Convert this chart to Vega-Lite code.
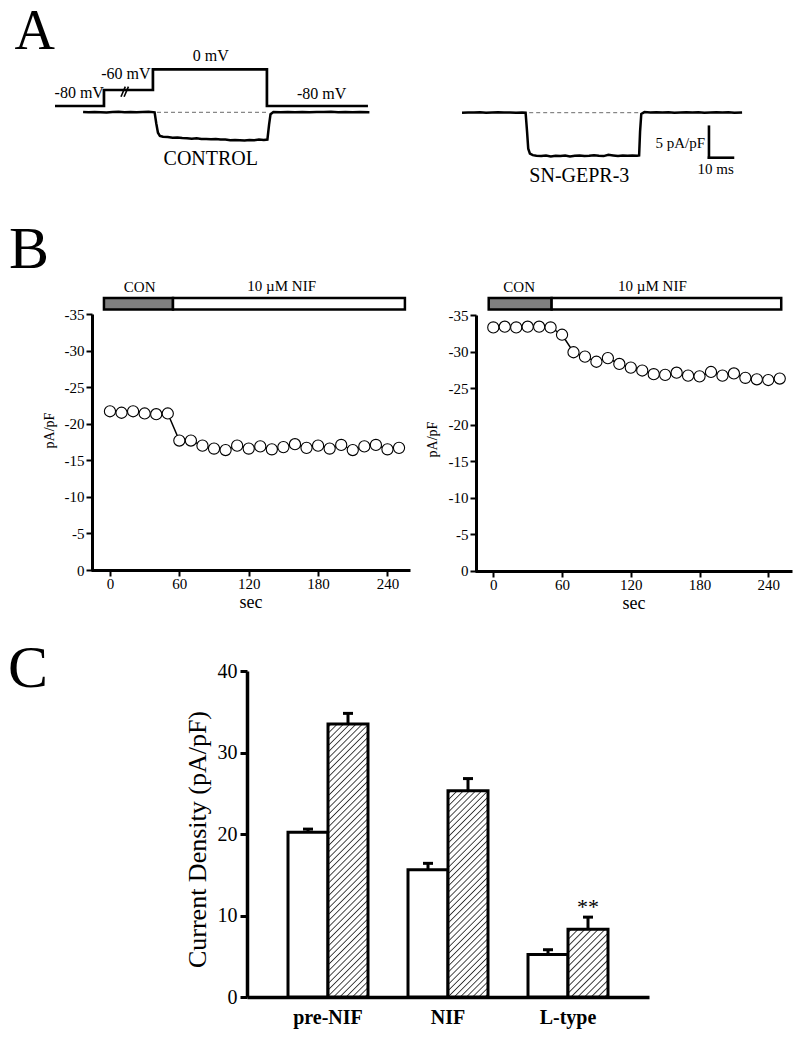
{
  "$schema": "https://vega.github.io/schema/vega-lite/v6.json",
  "width": 800,
  "height": 1037,
  "padding": 0,
  "autosize": {"type": "none"},
  "background": "white",
  "datasets": {
    "vprot": [{"t": 0, "mV": -80}, {"t": 20.4, "mV": -60}, {"t": 40.8, "mV": 0}, {"t": 88.3, "mV": -80}, {"t": 130.4, "mV": -80}],
    "ctrlI": [{"t":11.7,"I":0.05},{"t":14,"I":0.0},{"t":16.5,"I":0.06},{"t":19,"I":0.02},{"t":21.5,"I":-0.03},{"t":24,"I":0.04},{"t":26.5,"I":0.08},{"t":29,"I":0.02},{"t":31.5,"I":0.05},{"t":34,"I":0.0},{"t":36.5,"I":0.06},{"t":39,"I":0.1},{"t":41.5,"I":0.0},{"t":42.2,"I":-1.8},{"t":42.9,"I":-3.3},{"t":43.7,"I":-3.8},{"t":45,"I":-3.95},{"t":47,"I":-4.0},{"t":49,"I":-4.1},{"t":51,"I":-4.05},{"t":53,"I":-4.15},{"t":55,"I":-4.2},{"t":57,"I":-4.25},{"t":59,"I":-4.2},{"t":61,"I":-4.3},{"t":63,"I":-4.3},{"t":65,"I":-4.35},{"t":67,"I":-4.3},{"t":69,"I":-4.4},{"t":71,"I":-4.4},{"t":73,"I":-4.5},{"t":75,"I":-4.45},{"t":77,"I":-4.5},{"t":79,"I":-4.55},{"t":81,"I":-4.45},{"t":83,"I":-4.5},{"t":85,"I":-4.4},{"t":87,"I":-4.45},{"t":88.5,"I":-4.4},{"t":89.2,"I":-2.0},{"t":89.8,"I":-0.3},{"t":91,"I":0.05},{"t":94,"I":0.0},{"t":97,"I":0.06},{"t":100,"I":0.02},{"t":103,"I":0.05},{"t":106,"I":0.0},{"t":109,"I":0.05},{"t":112,"I":0.03},{"t":115,"I":0.07},{"t":118,"I":0.02},{"t":121,"I":0.05},{"t":124,"I":0.01},{"t":127,"I":0.04},{"t":131,"I":0.02}],
    "snI": [{"t":0,"I":0.0},{"t":2.5,"I":0.05},{"t":5,"I":0.02},{"t":7.5,"I":0.06},{"t":10,"I":0.0},{"t":12.5,"I":0.04},{"t":15,"I":0.07},{"t":17.5,"I":0.02},{"t":20,"I":0.05},{"t":22.5,"I":0.01},{"t":25,"I":0.04},{"t":26.5,"I":0.0},{"t":27.1,"I":-3.0},{"t":27.6,"I":-5.8},{"t":28.3,"I":-6.6},{"t":29.5,"I":-6.85},{"t":31,"I":-6.95},{"t":33,"I":-7.0},{"t":35,"I":-6.9},{"t":37,"I":-7.05},{"t":39,"I":-6.95},{"t":41,"I":-7.0},{"t":43,"I":-6.9},{"t":45,"I":-7.05},{"t":47,"I":-6.95},{"t":49,"I":-6.9},{"t":51,"I":-7.0},{"t":53,"I":-6.95},{"t":55,"I":-6.85},{"t":57,"I":-6.95},{"t":59,"I":-7.0},{"t":61,"I":-6.8},{"t":63,"I":-6.9},{"t":65,"I":-7.0},{"t":67,"I":-6.9},{"t":69,"I":-6.95},{"t":71,"I":-6.9},{"t":73,"I":-6.95},{"t":73.8,"I":-6.9},{"t":74.2,"I":-3.0},{"t":74.7,"I":-0.2},{"t":76,"I":0.1},{"t":78.5,"I":0.05},{"t":81,"I":0.08},{"t":83.5,"I":0.03},{"t":86,"I":0.06},{"t":88.5,"I":0.0},{"t":91,"I":0.05},{"t":93.5,"I":0.08},{"t":96,"I":0.02},{"t":98.5,"I":0.06},{"t":101,"I":0.0},{"t":103.5,"I":0.05},{"t":106,"I":0.08},{"t":108.5,"I":0.02},{"t":111,"I":0.06},{"t":113.5,"I":0.0},{"t":116.7,"I":0.04}],
    "bL": [{"t":0,"I":-21.7},{"t":10,"I":-21.5},{"t":20,"I":-21.7},{"t":30,"I":-21.4},{"t":40,"I":-21.3},{"t":50,"I":-21.4},{"t":60,"I":-17.7},{"t":70,"I":-17.7},{"t":80,"I":-17.0},{"t":90,"I":-16.6},{"t":100,"I":-16.4},{"t":110,"I":-17.0},{"t":120,"I":-16.6},{"t":130,"I":-16.9},{"t":140,"I":-16.5},{"t":150,"I":-16.8},{"t":160,"I":-17.2},{"t":170,"I":-16.7},{"t":180,"I":-17.0},{"t":190,"I":-16.6},{"t":200,"I":-17.1},{"t":210,"I":-16.4},{"t":220,"I":-16.9},{"t":230,"I":-17.1},{"t":240,"I":-16.5},{"t":250,"I":-16.7}],
    "bR": [{"t":0,"I":-33.3},{"t":10,"I":-33.4},{"t":20,"I":-33.3},{"t":30,"I":-33.4},{"t":40,"I":-33.4},{"t":50,"I":-33.3},{"t":60,"I":-32.3},{"t":70,"I":-29.9},{"t":80,"I":-29.3},{"t":90,"I":-28.6},{"t":100,"I":-29.1},{"t":110,"I":-28.3},{"t":120,"I":-27.8},{"t":130,"I":-27.4},{"t":140,"I":-26.9},{"t":150,"I":-26.8},{"t":160,"I":-27.1},{"t":170,"I":-26.7},{"t":180,"I":-26.6},{"t":190,"I":-27.2},{"t":200,"I":-26.7},{"t":210,"I":-27.0},{"t":220,"I":-26.4},{"t":230,"I":-26.2},{"t":240,"I":-26.1},{"t":250,"I":-26.3}],
    "trtL": [{"phase": "CON", "start": -5.2, "end": 54.5}, {"phase": "NIF", "start": 54.5, "end": 255.1}],
    "trtR": [{"phase": "CON", "start": -4.0, "end": 50.9}, {"phase": "NIF", "start": 50.9, "end": 251.3}],
    "bars": [
      {"group": "pre-NIF", "strain": "CONTROL", "mean": 20.2, "upper": 20.6, "sig": ""},
      {"group": "pre-NIF", "strain": "SN-GEPR-3", "mean": 33.5, "upper": 34.8, "sig": ""},
      {"group": "NIF", "strain": "CONTROL", "mean": 15.6, "upper": 16.4, "sig": ""},
      {"group": "NIF", "strain": "SN-GEPR-3", "mean": 25.3, "upper": 26.8, "sig": ""},
      {"group": "L-type", "strain": "CONTROL", "mean": 5.2, "upper": 5.8, "sig": ""},
      {"group": "L-type", "strain": "SN-GEPR-3", "mean": 8.3, "upper": 9.8, "sig": "**"}
    ]
  },
  "layer": [
    {
      "layer": [
        {
          "layer": [
            {"data": {"name": "vprot"}, "mark": {"type": "line", "interpolate": "step-after", "color": "black", "strokeWidth": 2.7},
             "encoding": {"x": {"field": "t", "type": "quantitative", "scale": {"domain": [0, 130], "range": [55, 367], "nice": false, "zero": false}, "axis": null},
                          "y": {"field": "mV", "type": "quantitative", "scale": {"domain": [-80, -60, 0], "range": [106, 90, 69.3], "nice": false, "zero": false}, "axis": null}}},
            {"data": {"values": [{}]}, "mark": {"type": "rule", "color": "black", "strokeWidth": 1.6}, "encoding": {"x": {"datum": 27.5, "axis": null}, "x2": {"datum": 29.3}, "y": {"datum": -68.4, "axis": null}, "y2": {"datum": -50.4}}},
            {"data": {"values": [{}]}, "mark": {"type": "rule", "color": "black", "strokeWidth": 1.6}, "encoding": {"x": {"datum": 28.8, "axis": null}, "x2": {"datum": 30.6}, "y": {"datum": -68.4, "axis": null}, "y2": {"datum": -50.4}}},
            {"data": {"values": [{}]}, "mark": {"type": "text", "text": "-80 mV", "fontSize": 16, "baseline": "middle"}, "encoding": {"x": {"datum": 10.1, "axis": null}, "y": {"datum": -64.1, "axis": null}}},
            {"data": {"values": [{}]}, "mark": {"type": "text", "text": "-60 mV", "fontSize": 16, "baseline": "middle"}, "encoding": {"x": {"datum": 29.5, "axis": null}, "y": {"datum": -12.3, "axis": null}}},
            {"data": {"values": [{}]}, "mark": {"type": "text", "text": "0 mV", "fontSize": 16, "baseline": "middle"}, "encoding": {"x": {"datum": 64.9, "axis": null}, "y": {"datum": 37.7, "axis": null}}},
            {"data": {"values": [{}]}, "mark": {"type": "text", "text": "-80 mV", "fontSize": 16, "baseline": "middle"}, "encoding": {"x": {"datum": 111.1, "axis": null}, "y": {"datum": -65.25, "axis": null}}},
            {"data": {"values": [{}]}, "mark": {"type": "text", "text": "A", "fontSize": 56, "align": "left", "baseline": "alphabetic"}, "encoding": {"x": {"datum": -16.9, "axis": null}, "y": {"datum": 58.8, "axis": null}}}
          ]
        },
        {
          "layer": [
            {"data": {"values": [{}]}, "mark": {"type": "rule", "color": "#444444", "strokeWidth": 0.8, "strokeDash": [4, 3]}, "encoding": {"x": {"datum": 42.5, "axis": null}, "x2": {"datum": 88.3}, "y": {"datum": 0, "axis": null}}},
            {"data": {"name": "ctrlI"}, "mark": {"type": "line", "color": "black", "strokeWidth": 2.5},
             "encoding": {"x": {"field": "t", "type": "quantitative", "axis": null},
                          "y": {"field": "I", "type": "quantitative", "scale": {"domain": [-10, 0], "range": [174.3, 112.3], "nice": false, "zero": false}, "axis": null}}},
            {"data": {"values": [{}]}, "mark": {"type": "text", "text": "CONTROL", "fontSize": 20, "baseline": "middle"}, "encoding": {"x": {"datum": 64.9, "axis": null}, "y": {"datum": -7.47, "axis": null}}}
          ]
        }
      ],
      "resolve": {"scale": {"y": "independent"}}
    },
    {
      "layer": [
        {"data": {"values": [{}]}, "mark": {"type": "rule", "color": "#444444", "strokeWidth": 0.8, "strokeDash": [4, 3]}, "encoding": {"x": {"datum": 28, "axis": null}, "x2": {"datum": 74}, "y": {"datum": 0, "axis": null}}},
        {"data": {"name": "snI"}, "mark": {"type": "line", "color": "black", "strokeWidth": 2.5},
         "encoding": {"x": {"field": "t", "type": "quantitative", "scale": {"domain": [0, 117], "range": [462, 742.8], "nice": false, "zero": false}, "axis": null},
                      "y": {"field": "I", "type": "quantitative", "scale": {"domain": [-10, 0], "range": [174.7, 112.7], "nice": false, "zero": false}, "axis": null}}},
        {"data": {"values": [{}]}, "mark": {"type": "rule", "color": "black", "strokeWidth": 2.6, "strokeCap": "square"}, "encoding": {"x": {"datum": 102.9, "axis": null}, "y": {"datum": -2.26, "axis": null}, "y2": {"datum": -7.26}}},
        {"data": {"values": [{}]}, "mark": {"type": "rule", "color": "black", "strokeWidth": 2.6, "strokeCap": "square"}, "encoding": {"x": {"datum": 102.9, "axis": null}, "x2": {"datum": 112.9}, "y": {"datum": -7.26, "axis": null}}},
        {"data": {"values": [{}]}, "mark": {"type": "text", "text": "5 pA/pF", "fontSize": 15, "align": "right", "baseline": "middle"}, "encoding": {"x": {"datum": 101.3, "axis": null}, "y": {"datum": -4.84, "axis": null}}},
        {"data": {"values": [{}]}, "mark": {"type": "text", "text": "10 ms", "fontSize": 15, "baseline": "middle"}, "encoding": {"x": {"datum": 105.7, "axis": null}, "y": {"datum": -9.1, "axis": null}}},
        {"data": {"values": [{}]}, "mark": {"type": "text", "text": "SN-GEPR-3", "fontSize": 20, "baseline": "middle"}, "encoding": {"x": {"datum": 48.9, "axis": null}, "y": {"datum": -10.27, "axis": null}}}
      ]
    },
    {
      "layer": [
        {"data": {"name": "trtL"}, "mark": {"type": "rect", "stroke": "black", "strokeWidth": 2.5}, "encoding": {"x": {"field": "start", "type": "quantitative"}, "x2": {"field": "end"}, "y": {"datum": -35.6}, "y2": {"datum": -37.2}, "fill": {"field": "phase", "type": "nominal", "scale": {"domain": ["CON", "NIF"], "range": ["#808080", "#ffffff"]}, "legend": null}}},
        {"data": {"values": [{}]}, "mark": {"type": "text", "text": "CON", "fontSize": 15, "baseline": "middle"}, "encoding": {"x": {"datum": 25.7}, "y": {"datum": -38.7}}},
        {"data": {"values": [{}]}, "mark": {"type": "text", "text": "10 µM NIF", "fontSize": 15, "baseline": "middle"}, "encoding": {"x": {"datum": 148.5}, "y": {"datum": -38.83}}},
        {"data": {"values": [{}]}, "mark": {"type": "text", "text": "B", "fontSize": 60, "align": "left", "baseline": "alphabetic"}, "encoding": {"x": {"datum": -87.4}, "y": {"datum": -41.3}}},
        {"data": {"values": [{}]}, "mark": {"type": "text", "text": "C", "fontSize": 60, "align": "left", "baseline": "alphabetic"}, "encoding": {"x": {"datum": -88.2}, "y": {"datum": 16.0}}},
        {"data": {"name": "bL"}, "mark": {"type": "line", "color": "black", "strokeWidth": 1.5},
         "encoding": {
           "x": {"field": "t", "type": "quantitative", "scale": {"domain": [-16.4, 259.5], "range": [91, 410], "nice": false, "zero": false},
                 "axis": {"orient": "bottom", "offset": -467, "values": [0, 60, 120, 180, 240], "title": "sec", "titleFontSize": 18, "titlePadding": 2, "labelFontSize": 15, "tickSize": 6, "tickWidth": 2, "domainWidth": 3, "labelPadding": 0}},
           "y": {"field": "I", "type": "quantitative", "scale": {"domain": [0, -35], "range": [570, 314], "nice": false, "zero": false},
                 "axis": {"orient": "left", "offset": -92, "values": [-35, -30, -25, -20, -15, -10, -5, 0], "labelExpr": "replace(datum.label, '\u2212', '-')", "title": "pA/pF", "titleFontSize": 14, "titleX": -42.6, "titleY": 430, "titleBaseline": "middle", "labelFontSize": 15, "tickSize": 6, "tickWidth": 2, "domainWidth": 3, "labelPadding": 2}}
         }},
        {"data": {"name": "bL"}, "mark": {"type": "circle", "fill": "white", "stroke": "black", "strokeWidth": 1.1, "size": 125, "opacity": 1},
         "encoding": {"x": {"field": "t", "type": "quantitative"}, "y": {"field": "I", "type": "quantitative"}}}
      ]
    },
    {
      "layer": [
        {"data": {"name": "trtR"}, "mark": {"type": "rect", "stroke": "black", "strokeWidth": 2.5}, "encoding": {"x": {"field": "start", "type": "quantitative"}, "x2": {"field": "end"}, "y": {"datum": -35.75}, "y2": {"datum": -37.33}, "fill": {"field": "phase", "type": "nominal", "scale": {"domain": ["CON", "NIF"], "range": ["#808080", "#ffffff"]}, "legend": null}}},
        {"data": {"values": [{}]}, "mark": {"type": "text", "text": "CON", "fontSize": 15, "baseline": "middle"}, "encoding": {"x": {"datum": 22.6}, "y": {"datum": -38.83}}},
        {"data": {"values": [{}]}, "mark": {"type": "text", "text": "10 µM NIF", "fontSize": 15, "baseline": "middle"}, "encoding": {"x": {"datum": 138.9}, "y": {"datum": -38.97}}},
        {"data": {"name": "bR"}, "mark": {"type": "line", "color": "black", "strokeWidth": 1.5},
         "encoding": {
           "x": {"field": "t", "type": "quantitative", "scale": {"domain": [-15.97, 260.7], "range": [475, 792], "nice": false, "zero": false},
                 "axis": {"orient": "bottom", "offset": -466, "values": [0, 60, 120, 180, 240], "title": "sec", "titleFontSize": 18, "titlePadding": 2, "labelFontSize": 15, "tickSize": 6, "tickWidth": 2, "domainWidth": 3, "labelPadding": 0}},
           "y": {"field": "I", "type": "quantitative", "scale": {"domain": [0, -35], "range": [570.7, 315], "nice": false, "zero": false},
                 "axis": {"orient": "left", "offset": -476, "values": [-35, -30, -25, -20, -15, -10, -5, 0], "labelExpr": "replace(datum.label, '\u2212', '-')", "title": "pA/pF", "titleFontSize": 14, "titleX": -43.6, "titleY": 439, "titleBaseline": "middle", "labelFontSize": 15, "tickSize": 6, "tickWidth": 2, "domainWidth": 3, "labelPadding": 2}}
         }},
        {"data": {"name": "bR"}, "mark": {"type": "circle", "fill": "white", "stroke": "black", "strokeWidth": 1.1, "size": 125, "opacity": 1},
         "encoding": {"x": {"field": "t", "type": "quantitative"}, "y": {"field": "I", "type": "quantitative"}}}
      ]
    },
    {
      "data": {"name": "bars"},
      "encoding": {
        "x": {"field": "group", "type": "nominal", "scale": {"domain": ["pre-NIF", "NIF", "L-type"], "range": [247, 649], "paddingInner": 0, "paddingOuter": 0.175},
              "axis": {"orient": "bottom", "offset": -40, "title": null, "ticks": false, "tickSize": 0, "labelFontSize": 20, "labelFontWeight": "bold", "labelPadding": 10, "labelAngle": 0, "domainWidth": 3.5}},
        "xOffset": {"field": "strain", "type": "nominal", "scale": {"domain": ["CONTROL", "SN-GEPR-3"], "paddingInner": 0, "paddingOuter": 0.5}}
      },
      "layer": [
        {"transform": [{"filter": "datum.strain == 'CONTROL'"}],
         "mark": {"type": "bar", "fill": "#ffffff", "stroke": "black", "strokeWidth": 3},
         "encoding": {
           "y": {"field": "mean", "type": "quantitative", "scale": {"domain": [0, 40], "range": [997, 671], "nice": false, "zero": false},
                 "axis": {"orient": "left", "offset": -247, "values": [0, 10, 20, 30, 40], "title": "Current Density (pA/pF)", "titleFontSize": 26, "titleX": -49.6, "titleY": 839, "titleBaseline": "middle", "labelFontSize": 20, "tickSize": 7, "tickWidth": 3, "domainWidth": 3.5, "labelPadding": 3}}
         }},
        {"transform": [{"filter": "datum.strain == 'SN-GEPR-3' && datum.group == 'pre-NIF'"}],
         "mark": {"type": "bar", "stroke": "black", "strokeWidth": 3,
           "fill": {"gradient": "linear", "x1": 0, "y1": 0, "x2": 0.16446, "y2": 1.12242, "stops": [
                 {"offset":0.006,"color":"#fff"},{"offset":0.01,"color":"#333"},{"offset":0.014,"color":"#fff"},
                 {"offset":0.026,"color":"#fff"},{"offset":0.03,"color":"#333"},{"offset":0.034,"color":"#fff"},
                 {"offset":0.046,"color":"#fff"},{"offset":0.05,"color":"#333"},{"offset":0.054,"color":"#fff"},
                 {"offset":0.066,"color":"#fff"},{"offset":0.07,"color":"#333"},{"offset":0.074,"color":"#fff"},
                 {"offset":0.086,"color":"#fff"},{"offset":0.09,"color":"#333"},{"offset":0.094,"color":"#fff"},
                 {"offset":0.106,"color":"#fff"},{"offset":0.11,"color":"#333"},{"offset":0.114,"color":"#fff"},
                 {"offset":0.126,"color":"#fff"},{"offset":0.13,"color":"#333"},{"offset":0.134,"color":"#fff"},
                 {"offset":0.146,"color":"#fff"},{"offset":0.15,"color":"#333"},{"offset":0.154,"color":"#fff"},
                 {"offset":0.166,"color":"#fff"},{"offset":0.17,"color":"#333"},{"offset":0.174,"color":"#fff"},
                 {"offset":0.186,"color":"#fff"},{"offset":0.19,"color":"#333"},{"offset":0.194,"color":"#fff"},
                 {"offset":0.206,"color":"#fff"},{"offset":0.21,"color":"#333"},{"offset":0.214,"color":"#fff"},
                 {"offset":0.226,"color":"#fff"},{"offset":0.23,"color":"#333"},{"offset":0.234,"color":"#fff"},
                 {"offset":0.246,"color":"#fff"},{"offset":0.25,"color":"#333"},{"offset":0.254,"color":"#fff"},
                 {"offset":0.266,"color":"#fff"},{"offset":0.27,"color":"#333"},{"offset":0.274,"color":"#fff"},
                 {"offset":0.286,"color":"#fff"},{"offset":0.29,"color":"#333"},{"offset":0.294,"color":"#fff"},
                 {"offset":0.306,"color":"#fff"},{"offset":0.31,"color":"#333"},{"offset":0.314,"color":"#fff"},
                 {"offset":0.326,"color":"#fff"},{"offset":0.33,"color":"#333"},{"offset":0.334,"color":"#fff"},
                 {"offset":0.346,"color":"#fff"},{"offset":0.35,"color":"#333"},{"offset":0.354,"color":"#fff"},
                 {"offset":0.366,"color":"#fff"},{"offset":0.37,"color":"#333"},{"offset":0.374,"color":"#fff"},
                 {"offset":0.386,"color":"#fff"},{"offset":0.39,"color":"#333"},{"offset":0.394,"color":"#fff"},
                 {"offset":0.406,"color":"#fff"},{"offset":0.41,"color":"#333"},{"offset":0.414,"color":"#fff"},
                 {"offset":0.426,"color":"#fff"},{"offset":0.43,"color":"#333"},{"offset":0.434,"color":"#fff"},
                 {"offset":0.446,"color":"#fff"},{"offset":0.45,"color":"#333"},{"offset":0.454,"color":"#fff"},
                 {"offset":0.466,"color":"#fff"},{"offset":0.47,"color":"#333"},{"offset":0.474,"color":"#fff"},
                 {"offset":0.486,"color":"#fff"},{"offset":0.49,"color":"#333"},{"offset":0.494,"color":"#fff"},
                 {"offset":0.506,"color":"#fff"},{"offset":0.51,"color":"#333"},{"offset":0.514,"color":"#fff"},
                 {"offset":0.526,"color":"#fff"},{"offset":0.53,"color":"#333"},{"offset":0.534,"color":"#fff"},
                 {"offset":0.546,"color":"#fff"},{"offset":0.55,"color":"#333"},{"offset":0.554,"color":"#fff"},
                 {"offset":0.566,"color":"#fff"},{"offset":0.57,"color":"#333"},{"offset":0.574,"color":"#fff"},
                 {"offset":0.586,"color":"#fff"},{"offset":0.59,"color":"#333"},{"offset":0.594,"color":"#fff"},
                 {"offset":0.606,"color":"#fff"},{"offset":0.61,"color":"#333"},{"offset":0.614,"color":"#fff"},
                 {"offset":0.626,"color":"#fff"},{"offset":0.63,"color":"#333"},{"offset":0.634,"color":"#fff"},
                 {"offset":0.646,"color":"#fff"},{"offset":0.65,"color":"#333"},{"offset":0.654,"color":"#fff"},
                 {"offset":0.666,"color":"#fff"},{"offset":0.67,"color":"#333"},{"offset":0.674,"color":"#fff"},
                 {"offset":0.686,"color":"#fff"},{"offset":0.69,"color":"#333"},{"offset":0.694,"color":"#fff"},
                 {"offset":0.706,"color":"#fff"},{"offset":0.71,"color":"#333"},{"offset":0.714,"color":"#fff"},
                 {"offset":0.726,"color":"#fff"},{"offset":0.73,"color":"#333"},{"offset":0.734,"color":"#fff"},
                 {"offset":0.746,"color":"#fff"},{"offset":0.75,"color":"#333"},{"offset":0.754,"color":"#fff"},
                 {"offset":0.766,"color":"#fff"},{"offset":0.77,"color":"#333"},{"offset":0.774,"color":"#fff"},
                 {"offset":0.786,"color":"#fff"},{"offset":0.79,"color":"#333"},{"offset":0.794,"color":"#fff"},
                 {"offset":0.806,"color":"#fff"},{"offset":0.81,"color":"#333"},{"offset":0.814,"color":"#fff"},
                 {"offset":0.826,"color":"#fff"},{"offset":0.83,"color":"#333"},{"offset":0.834,"color":"#fff"},
                 {"offset":0.846,"color":"#fff"},{"offset":0.85,"color":"#333"},{"offset":0.854,"color":"#fff"},
                 {"offset":0.866,"color":"#fff"},{"offset":0.87,"color":"#333"},{"offset":0.874,"color":"#fff"},
                 {"offset":0.886,"color":"#fff"},{"offset":0.89,"color":"#333"},{"offset":0.894,"color":"#fff"},
                 {"offset":0.906,"color":"#fff"},{"offset":0.91,"color":"#333"},{"offset":0.914,"color":"#fff"},
                 {"offset":0.926,"color":"#fff"},{"offset":0.93,"color":"#333"},{"offset":0.934,"color":"#fff"},
                 {"offset":0.946,"color":"#fff"},{"offset":0.95,"color":"#333"},{"offset":0.954,"color":"#fff"},
                 {"offset":0.966,"color":"#fff"},{"offset":0.97,"color":"#333"},{"offset":0.974,"color":"#fff"},
                 {"offset":0.986,"color":"#fff"},{"offset":0.99,"color":"#333"},{"offset":0.994,"color":"#fff"}]}},
         "encoding": {"y": {"field": "mean", "type": "quantitative"}}},
        {"transform": [{"filter": "datum.strain == 'SN-GEPR-3' && datum.group == 'NIF'"}],
         "mark": {"type": "bar", "stroke": "black", "strokeWidth": 3,
           "fill": {"gradient": "linear", "x1": 0, "y1": 0, "x2": 0.22322, "y2": 1.15069, "stops": [
                 {"offset":0.0075,"color":"#fff"},{"offset":0.0125,"color":"#333"},{"offset":0.0175,"color":"#fff"},
                 {"offset":0.0325,"color":"#fff"},{"offset":0.0375,"color":"#333"},{"offset":0.0425,"color":"#fff"},
                 {"offset":0.0575,"color":"#fff"},{"offset":0.0625,"color":"#333"},{"offset":0.0675,"color":"#fff"},
                 {"offset":0.0825,"color":"#fff"},{"offset":0.0875,"color":"#333"},{"offset":0.0925,"color":"#fff"},
                 {"offset":0.1075,"color":"#fff"},{"offset":0.1125,"color":"#333"},{"offset":0.1175,"color":"#fff"},
                 {"offset":0.1325,"color":"#fff"},{"offset":0.1375,"color":"#333"},{"offset":0.1425,"color":"#fff"},
                 {"offset":0.1575,"color":"#fff"},{"offset":0.1625,"color":"#333"},{"offset":0.1675,"color":"#fff"},
                 {"offset":0.1825,"color":"#fff"},{"offset":0.1875,"color":"#333"},{"offset":0.1925,"color":"#fff"},
                 {"offset":0.2075,"color":"#fff"},{"offset":0.2125,"color":"#333"},{"offset":0.2175,"color":"#fff"},
                 {"offset":0.2325,"color":"#fff"},{"offset":0.2375,"color":"#333"},{"offset":0.2425,"color":"#fff"},
                 {"offset":0.2575,"color":"#fff"},{"offset":0.2625,"color":"#333"},{"offset":0.2675,"color":"#fff"},
                 {"offset":0.2825,"color":"#fff"},{"offset":0.2875,"color":"#333"},{"offset":0.2925,"color":"#fff"},
                 {"offset":0.3075,"color":"#fff"},{"offset":0.3125,"color":"#333"},{"offset":0.3175,"color":"#fff"},
                 {"offset":0.3325,"color":"#fff"},{"offset":0.3375,"color":"#333"},{"offset":0.3425,"color":"#fff"},
                 {"offset":0.3575,"color":"#fff"},{"offset":0.3625,"color":"#333"},{"offset":0.3675,"color":"#fff"},
                 {"offset":0.3825,"color":"#fff"},{"offset":0.3875,"color":"#333"},{"offset":0.3925,"color":"#fff"},
                 {"offset":0.4075,"color":"#fff"},{"offset":0.4125,"color":"#333"},{"offset":0.4175,"color":"#fff"},
                 {"offset":0.4325,"color":"#fff"},{"offset":0.4375,"color":"#333"},{"offset":0.4425,"color":"#fff"},
                 {"offset":0.4575,"color":"#fff"},{"offset":0.4625,"color":"#333"},{"offset":0.4675,"color":"#fff"},
                 {"offset":0.4825,"color":"#fff"},{"offset":0.4875,"color":"#333"},{"offset":0.4925,"color":"#fff"},
                 {"offset":0.5075,"color":"#fff"},{"offset":0.5125,"color":"#333"},{"offset":0.5175,"color":"#fff"},
                 {"offset":0.5325,"color":"#fff"},{"offset":0.5375,"color":"#333"},{"offset":0.5425,"color":"#fff"},
                 {"offset":0.5575,"color":"#fff"},{"offset":0.5625,"color":"#333"},{"offset":0.5675,"color":"#fff"},
                 {"offset":0.5825,"color":"#fff"},{"offset":0.5875,"color":"#333"},{"offset":0.5925,"color":"#fff"},
                 {"offset":0.6075,"color":"#fff"},{"offset":0.6125,"color":"#333"},{"offset":0.6175,"color":"#fff"},
                 {"offset":0.6325,"color":"#fff"},{"offset":0.6375,"color":"#333"},{"offset":0.6425,"color":"#fff"},
                 {"offset":0.6575,"color":"#fff"},{"offset":0.6625,"color":"#333"},{"offset":0.6675,"color":"#fff"},
                 {"offset":0.6825,"color":"#fff"},{"offset":0.6875,"color":"#333"},{"offset":0.6925,"color":"#fff"},
                 {"offset":0.7075,"color":"#fff"},{"offset":0.7125,"color":"#333"},{"offset":0.7175,"color":"#fff"},
                 {"offset":0.7325,"color":"#fff"},{"offset":0.7375,"color":"#333"},{"offset":0.7425,"color":"#fff"},
                 {"offset":0.7575,"color":"#fff"},{"offset":0.7625,"color":"#333"},{"offset":0.7675,"color":"#fff"},
                 {"offset":0.7825,"color":"#fff"},{"offset":0.7875,"color":"#333"},{"offset":0.7925,"color":"#fff"},
                 {"offset":0.8075,"color":"#fff"},{"offset":0.8125,"color":"#333"},{"offset":0.8175,"color":"#fff"},
                 {"offset":0.8325,"color":"#fff"},{"offset":0.8375,"color":"#333"},{"offset":0.8425,"color":"#fff"},
                 {"offset":0.8575,"color":"#fff"},{"offset":0.8625,"color":"#333"},{"offset":0.8675,"color":"#fff"},
                 {"offset":0.8825,"color":"#fff"},{"offset":0.8875,"color":"#333"},{"offset":0.8925,"color":"#fff"},
                 {"offset":0.9075,"color":"#fff"},{"offset":0.9125,"color":"#333"},{"offset":0.9175,"color":"#fff"},
                 {"offset":0.9325,"color":"#fff"},{"offset":0.9375,"color":"#333"},{"offset":0.9425,"color":"#fff"},
                 {"offset":0.9575,"color":"#fff"},{"offset":0.9625,"color":"#333"},{"offset":0.9675,"color":"#fff"},
                 {"offset":0.9825,"color":"#fff"},{"offset":0.9875,"color":"#333"},{"offset":0.9925,"color":"#fff"}]}},
         "encoding": {"y": {"field": "mean", "type": "quantitative"}}},
        {"transform": [{"filter": "datum.strain == 'SN-GEPR-3' && datum.group == 'L-type'"}],
         "mark": {"type": "bar", "stroke": "black", "strokeWidth": 3,
           "fill": {"gradient": "linear", "x1": 0, "y1": 0, "x2": 0.69757, "y2": 1.1789, "stops": [
                 {"offset":0.01875,"color":"#fff"},{"offset":0.03125,"color":"#333"},{"offset":0.04375,"color":"#fff"},
                 {"offset":0.08125,"color":"#fff"},{"offset":0.09375,"color":"#333"},{"offset":0.10625,"color":"#fff"},
                 {"offset":0.14375,"color":"#fff"},{"offset":0.15625,"color":"#333"},{"offset":0.16875,"color":"#fff"},
                 {"offset":0.20625,"color":"#fff"},{"offset":0.21875,"color":"#333"},{"offset":0.23125,"color":"#fff"},
                 {"offset":0.26875,"color":"#fff"},{"offset":0.28125,"color":"#333"},{"offset":0.29375,"color":"#fff"},
                 {"offset":0.33125,"color":"#fff"},{"offset":0.34375,"color":"#333"},{"offset":0.35625,"color":"#fff"},
                 {"offset":0.39375,"color":"#fff"},{"offset":0.40625,"color":"#333"},{"offset":0.41875,"color":"#fff"},
                 {"offset":0.45625,"color":"#fff"},{"offset":0.46875,"color":"#333"},{"offset":0.48125,"color":"#fff"},
                 {"offset":0.51875,"color":"#fff"},{"offset":0.53125,"color":"#333"},{"offset":0.54375,"color":"#fff"},
                 {"offset":0.58125,"color":"#fff"},{"offset":0.59375,"color":"#333"},{"offset":0.60625,"color":"#fff"},
                 {"offset":0.64375,"color":"#fff"},{"offset":0.65625,"color":"#333"},{"offset":0.66875,"color":"#fff"},
                 {"offset":0.70625,"color":"#fff"},{"offset":0.71875,"color":"#333"},{"offset":0.73125,"color":"#fff"},
                 {"offset":0.76875,"color":"#fff"},{"offset":0.78125,"color":"#333"},{"offset":0.79375,"color":"#fff"},
                 {"offset":0.83125,"color":"#fff"},{"offset":0.84375,"color":"#333"},{"offset":0.85625,"color":"#fff"},
                 {"offset":0.89375,"color":"#fff"},{"offset":0.90625,"color":"#333"},{"offset":0.91875,"color":"#fff"},
                 {"offset":0.95625,"color":"#fff"},{"offset":0.96875,"color":"#333"},{"offset":0.98125,"color":"#fff"}]}},
         "encoding": {"y": {"field": "mean", "type": "quantitative"}}},
        {"mark": {"type": "rule", "color": "black", "strokeWidth": 3}, "encoding": {"y": {"field": "mean", "type": "quantitative"}, "y2": {"field": "upper"}}},
        {"mark": {"type": "tick", "orient": "horizontal", "color": "black", "size": 10, "thickness": 3, "opacity": 1}, "encoding": {"y": {"field": "upper", "type": "quantitative"}}},
        {"mark": {"type": "text", "fontSize": 22, "baseline": "alphabetic", "dy": -3}, "encoding": {"y": {"field": "upper", "type": "quantitative"}, "text": {"field": "sig"}}}
      ]
    }
  ],
  "resolve": {"scale": {"x": "independent", "y": "independent"}},
  "config": {
    "view": {"stroke": null},
    "font": "Liberation Serif",
    "axis": {"domainColor": "black", "tickColor": "black", "labelColor": "black", "titleColor": "black", "grid": false, "labelFont": "Liberation Serif", "titleFont": "Liberation Serif", "titleFontWeight": "normal"},
    "text": {"font": "Liberation Serif", "color": "black"}
  }
}
